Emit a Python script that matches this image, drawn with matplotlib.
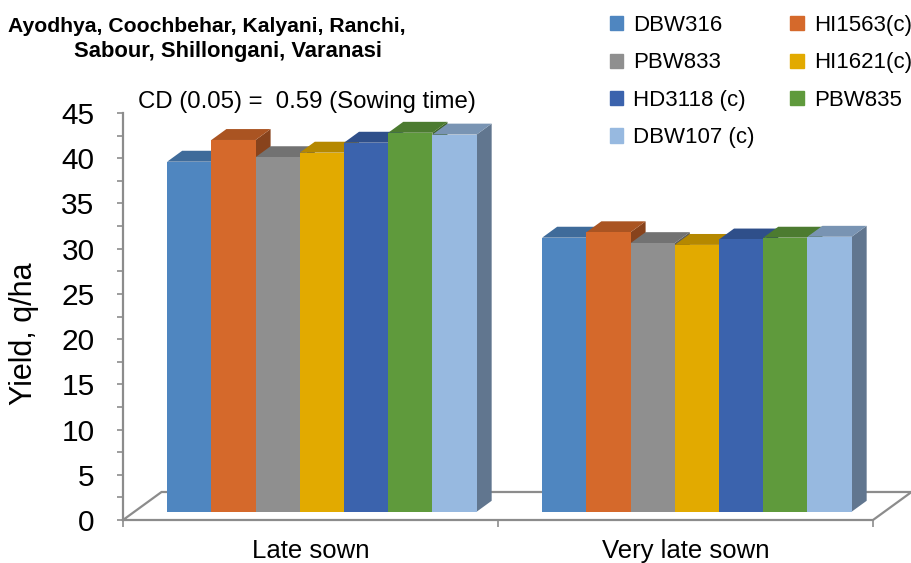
import matplotlib
matplotlib.use("Agg")
import matplotlib.pyplot as plt
from matplotlib.patches import Polygon, Patch
from matplotlib.ticker import MultipleLocator
from matplotlib.colors import to_rgb

plt.rcParams['font.family'] = ['Liberation Sans', 'DejaVu Sans']

categories = ['Late sown', 'Very late sown']
varieties = ['DBW316', 'HI1563(c)', 'PBW833', 'HI1621(c)', 'HD3118 (c)', 'PBW835', 'DBW107 (c)']
late_sown = [38.7, 41.1, 39.2, 39.7, 40.8, 41.9, 41.7]
very_late_sown = [30.3, 30.9, 29.7, 29.5, 30.1, 30.3, 30.4]
colors = ['#4F86C0', '#D5692B', '#8F8F8F', '#E2AA00', '#3B63AD', '#5F9A3C', '#97B9E0']

title_lines = ['Ayodhya, Coochbehar, Kalyani, Ranchi,', 'Sabour, Shillongani, Varanasi']
cd_note = 'CD (0.05) =  0.59 (Sowing time)'

yields = [late_sown, very_late_sown]


def shade(c, f):
    r, g, b = to_rgb(c)
    return (r * f, g * f, b * f)


fig = plt.figure(figsize=(9.12, 5.63), dpi=100)
ax = fig.add_axes([123 / 912, 43 / 563, 750 / 912, 407 / 563])
ax.set_xlim(0, 2)
ax.set_ylim(0, 45)

# oblique depth of the floor, in data units
floor_dx = 0.1027
floor_dy = 3.096
front_frac = 0.296   # where the bar fronts sit inside the floor depth
depth_frac = 0.39    # how deep each bar is
bar_w = 0.1179
gap = (1 - bar_w * len(varieties)) / 2

bx, by = front_frac * floor_dx, front_frac * floor_dy
ddx, ddy = depth_frac * floor_dx, depth_frac * floor_dy

gray = '#8C8C8C'

# floor outline
ax.plot([0, floor_dx, 2 + floor_dx, 2, 0],
        [0, floor_dy, floor_dy, 0, 0],
        color=gray, lw=1.6, clip_on=False, zorder=1, solid_joinstyle='miter')

for i, (name, col) in enumerate(zip(varieties, colors)):
    xs = [c + gap + i * bar_w + bx for c in range(len(categories))]
    vals = [yields[c][i] for c in range(len(categories))]
    for x0, v in zip(xs, vals):
        top = by + v
        side = Polygon([(x0 + bar_w, by), (x0 + bar_w + ddx, by + ddy),
                        (x0 + bar_w + ddx, top + ddy), (x0 + bar_w, top)],
                       closed=True, fc=shade(col, 0.64), ec='none',
                       zorder=2 + 2 * i, clip_on=False)
        cap = Polygon([(x0, top), (x0 + bar_w, top),
                       (x0 + bar_w + ddx, top + ddy), (x0 + ddx, top + ddy)],
                      closed=True, fc=shade(col, 0.8), ec='none',
                      zorder=2 + 2 * i, clip_on=False)
        ax.add_patch(side)
        ax.add_patch(cap)
    ax.bar(xs, vals, width=bar_w, bottom=by, align='edge', color=col,
           edgecolor='none', zorder=3 + 2 * i, clip_on=False, label=name)

# axes styling
for s in ['top', 'right', 'bottom']:
    ax.spines[s].set_visible(False)
ax.spines['left'].set_color(gray)
ax.spines['left'].set_linewidth(1.6)
ax.spines['left'].set_zorder(1)

ax.yaxis.set_major_locator(MultipleLocator(5))
ax.yaxis.set_minor_locator(MultipleLocator(2.5))
ax.tick_params(axis='y', which='major', length=4.5, width=1.2, color=gray,
               labelsize=21.5, pad=16)
ax.tick_params(axis='y', which='minor', length=4, width=1.2, color=gray)

ax.set_xticks([0, 1, 2])
ax.set_xticklabels(['', '', ''])
ax.set_xticks([0.5, 1.5], minor=True)
ax.set_xticklabels(categories, minor=True)
ax.tick_params(axis='x', which='major', length=5, width=1.2, color=gray)
ax.tick_params(axis='x', which='minor', length=0, labelsize=18.5, pad=13.5)
ax.set_facecolor('none')

fig.text(24 / 912, 1 - 334 / 563, 'Yield, q/ha', rotation=90,
         ha='center', va='center', fontsize=22)

fig.text(207 / 912, 1 - 26 / 563, title_lines[0], ha='center', va='center',
         fontsize=15.2, fontweight='bold')
fig.text(228 / 912, 1 - 52 / 563, title_lines[1], ha='center', va='center',
         fontsize=15.8, fontweight='bold')
fig.text(138 / 912, 1 - 102 / 563, cd_note, ha='left', va='center', fontsize=17.3)

# legend filled column-wise, so reorder to read across rows
handles = [Patch(color=c, label=n) for n, c in zip(varieties, colors)]
order = [0, 2, 4, 6, 1, 3, 5]
fig.legend([handles[k] for k in order], [varieties[k] for k in order],
           ncol=2, loc='upper left', bbox_to_anchor=(610 / 912, 1 - 15 / 563),
           frameon=False, fontsize=16, handlelength=0.6, handleheight=0.6,
           handletextpad=0.45, columnspacing=1.6, labelspacing=0.74,
           borderpad=0, borderaxespad=0)

fig.savefig('out.png', dpi=100, facecolor='white')
